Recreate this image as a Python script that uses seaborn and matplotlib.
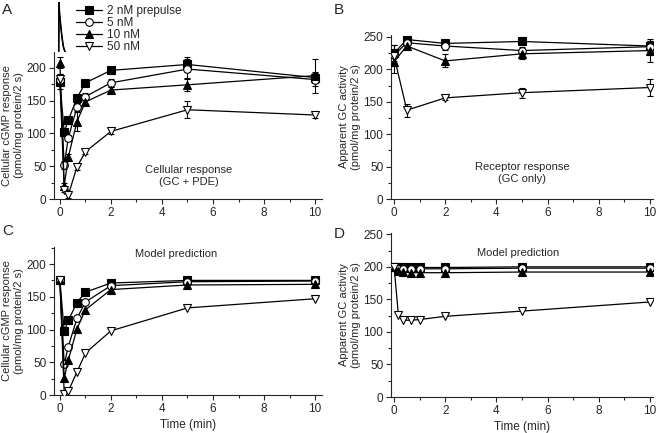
import numpy as np
import pandas as pd
import matplotlib
matplotlib.use("Agg")
import matplotlib.pyplot as plt
from matplotlib.ticker import MultipleLocator
import seaborn as sns

sns.set_style("ticks")
plt.rcParams['font.family'] = ['Liberation Sans', 'DejaVu Sans']

# ---- data ----
labels = ['2 nM prepulse', '5 nM', '10 nM', '50 nM']

# panel A: measured cellular cGMP response
t_a = [0, 0.17, 0.33, 0.67, 1, 2, 5, 10]
a_2nm = [178, 102, 120, 154, 177, 196, 205, 185]
a_5nm = [182, 52, 93, 140, 156, 177, 198, 182]
a_10nm = [208, 20, 64, 118, 148, 166, 174, 188]
a_50nm = [183, 14, 6, 49, 72, 103, 136, 128]
a_err_2nm = [10, 5, 5, 5, 4, 5, 12, 8]
a_err_5nm = [8, 6, 5, 6, 5, 6, 15, 10]
a_err_10nm = [8, 4, 5, 15, 5, 5, 10, 26]
a_err_50nm = [8, 4, 4, 5, 4, 4, 13, 5]

# panel B: measured apparent GC activity
t_b = [0, 0.5, 2, 5, 10]
b_2nm = [225, 246, 240, 243, 236]
b_5nm = [222, 241, 236, 229, 235]
b_10nm = [212, 236, 213, 224, 229]
b_50nm = [220, 137, 156, 164, 172]
b_err_2nm = [12, 3, 5, 5, 8]
b_err_5nm = [15, 4, 6, 6, 8]
b_err_10nm = [18, 4, 10, 8, 18]
b_err_50nm = [10, 10, 4, 8, 13]

# panel C: model prediction, cellular response
t_c = [0, 0.17, 0.33, 0.67, 1, 2, 5, 10]
c_2nm = [176, 97, 114, 141, 157, 171, 175, 175]
c_5nm = [176, 47, 74, 117, 142, 167, 173, 174]
c_10nm = [176, 26, 53, 101, 130, 161, 168, 169]
c_50nm = [176, 2, 6, 35, 64, 98, 133, 147]

# panel D: model prediction, apparent GC activity
t_d = [0, 0.17, 0.33, 0.67, 1, 2, 5, 10]
d_2nm = [200, 199, 199, 199, 199, 199, 200, 200]
d_5nm = [200, 197, 197, 197, 197, 197, 198, 198]
d_10nm = [200, 194, 192, 191, 191, 191, 192, 192]
d_50nm = [200, 126, 118, 118, 119, 124, 132, 146]

# prepulse trace drawn above panel A
pulse_t = [0, 0.05, 0.12, 0.3, 0.5, 0.7, 0.85, 1.0]
pulse_y = [0, 1.0, 0.8, 0.55, 0.3, 0.12, 0.04, 0.0]

styles = [
    dict(marker='s', markerfacecolor='black'),
    dict(marker='o', markerfacecolor='white'),
    dict(marker='^', markerfacecolor='black'),
    dict(marker='v', markerfacecolor='white'),
]

W, H = 656, 433
fig = plt.figure(figsize=(6.56, 4.33), dpi=100)


def px_axes(left, right, top, bottom):
    return fig.add_axes([left / W, 1 - bottom / H, (right - left) / W, (bottom - top) / H])


def draw(ax, t, series, errs=None):
    for i, y in enumerate(series):
        st = styles[i]
        if errs is not None:
            ax.errorbar(t, y, yerr=errs[i], fmt='none', ecolor='black',
                        elinewidth=0.8, capsize=2.2, capthick=0.8, zorder=2)
        sns.lineplot(x=t, y=y, ax=ax, color='black', linewidth=0.9,
                     marker=st['marker'], markerfacecolor=st['markerfacecolor'],
                     markeredgecolor='black', markeredgewidth=0.8, markersize=5.5,
                     label=labels[i], legend=False, zorder=3)


def style_axes(ax, ymax, xlabel=False):
    ax.set_xlim(-0.23, 10.27)
    ax.set_ylim(0, ymax)
    ax.xaxis.set_major_locator(MultipleLocator(2))
    ax.xaxis.set_minor_locator(MultipleLocator(1))
    ax.yaxis.set_major_locator(MultipleLocator(50))
    ax.yaxis.set_minor_locator(MultipleLocator(25))
    ax.tick_params(which='major', direction='out', length=3.5, width=0.8, labelsize=8.5, pad=2)
    ax.tick_params(which='minor', direction='out', length=2, width=0.8)
    sns.despine(ax=ax)
    for s in ['left', 'bottom']:
        ax.spines[s].set_linewidth(0.8)
    if xlabel:
        ax.set_xlabel('Time (min)', fontsize=8.5, labelpad=3)
    else:
        ax.set_xlabel('')


axA = px_axes(54, 322, 52, 199)
draw(axA, t_a, [a_2nm, a_5nm, a_10nm, a_50nm],
     [a_err_2nm, a_err_5nm, a_err_10nm, a_err_50nm])
style_axes(axA, 224)
axA.set_ylabel('Cellular cGMP response\n(pmol/mg protein/2 s)', fontsize=8, labelpad=2)
axA.text(5.05, 35, 'Cellular response\n(GC + PDE)', ha='center', va='center', fontsize=8)

axB = px_axes(391, 653, 35, 199)
draw(axB, t_b, [b_2nm, b_5nm, b_10nm, b_50nm],
     [b_err_2nm, b_err_5nm, b_err_10nm, b_err_50nm])
style_axes(axB, 253)
axB.set_xlim(-0.12, 10.12)
axB.set_ylabel('Apparent GC activity\n(pmol/mg protein/2 s)', fontsize=8, labelpad=2)
axB.text(5.0, 40, 'Receptor response\n(GC only)', ha='center', va='center', fontsize=8)

axC = px_axes(54, 322, 247, 395)
draw(axC, t_c, [c_2nm, c_5nm, c_10nm, c_50nm])
style_axes(axC, 226, xlabel=True)
axC.set_ylabel('Cellular cGMP response\n(pmol/mg protein/2 s)', fontsize=8, labelpad=2)
axC.text(4.55, 216, 'Model prediction', ha='center', va='center', fontsize=8)

axD = px_axes(391, 653, 233, 397)
draw(axD, t_d, [d_2nm, d_5nm, d_10nm, d_50nm])
style_axes(axD, 252, xlabel=True)
axD.set_xlim(-0.12, 10.12)
axD.set_ylabel('Apparent GC activity\n(pmol/mg protein/2 s)', fontsize=8, labelpad=2)
axD.text(4.85, 222, 'Model prediction', ha='center', va='center', fontsize=8)

# prepulse inset trace
axP = px_axes(58, 66, 2, 52)
for k in range(4):
    sns.lineplot(x=[p + 0.04 * k for p in pulse_t], y=pulse_y, ax=axP,
                 color='black', linewidth=0.6)
axP.set_xlim(-0.05, 1.2)
axP.set_ylim(-0.01, 1.01)
axP.axis('off')

# legend
handles, _ = axA.get_legend_handles_labels()
fig.legend(handles, labels, loc='upper left', bbox_to_anchor=(70 / W, 1 + 1 / H),
           frameon=False, fontsize=8.5, handlelength=2.2, handletextpad=0.4,
           labelspacing=0.0, borderpad=0.0)

for letter, x, y in [('A', 2, 3), ('B', 334, 3), ('C', 2, 224), ('D', 334, 227)]:
    fig.text(x / W, 1 - y / H, letter, fontsize=11, ha='left', va='top')

fig.savefig('out.png', dpi=100)
